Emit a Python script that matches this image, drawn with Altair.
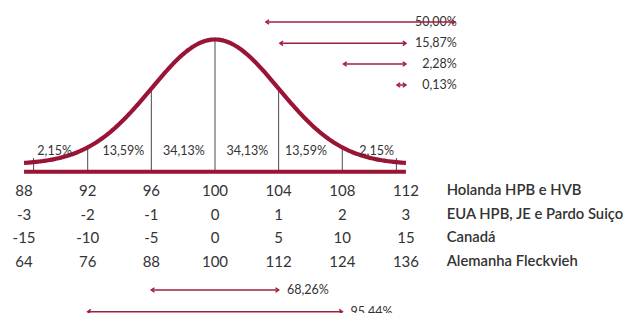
import altair as alt
import numpy as np
import pandas as pd

# ---------------- data ----------------
sd_positions = [-3, -2, -1, 0, 1, 2, 3]
row_names = ["Holanda HPB e HVB", "EUA HPB, JE e Pardo Suiço", "Canadá", "Alemanha Fleckvieh"]
row_holanda = ["88", "92", "96", "100", "104", "108", "112"]
row_eua = ["-3", "-2", "-1", "0", "1", "2", "3"]
row_canada = ["-15", "-10", "-5", "0", "5", "10", "15"]
row_alemanha = ["64", "76", "88", "100", "112", "124", "136"]
band_labels = ["2,15%", "13,59%", "34,13%", "34,13%", "13,59%", "2,15%"]
band_centers = [-2.52, -1.44, -0.49, 0.51, 1.43, 2.54]
divider_sd = [-2, -1, 0, 1, 2]
end_tick_sd = [-2.85, 2.85]
right_labels = ["50,00%", "15,87%", "2,28%", "0,13%"]
right_start = [0.8, 1.02, 2.02, 2.86]
right_end = [3.77, 3.0, 3.0, 3.0]
bottom_labels = ["68,26%", "95,44%"]
bottom_start = [-1.0, -2.0]
bottom_end = [1.0, 2.0]

# ---------------- layout (pdf units / sd units) ----------------
RED = "#9A1535"
ARROW = "#A11E3C"
TXT = "#333333"
FONT = "Lato"
BASE = -0.0237
TICK_TOP = 0.0201
BAND_Y = 0.0434
ROW_Y = [-0.0854, -0.162, -0.2365, -0.3132]
RIGHT_Y = [0.4548, 0.3867, 0.3205, 0.2534]
BOTTOM_Y = [-0.4017, -0.4711]
ROW_LABEL_X = 3.64
RIGHT_TEXT_X = 3.80

W, H = 619, 305
xs = alt.Scale(domain=[-3.252, -3.252 + W / 63.65], zero=False, nice=False)
ys = alt.Scale(domain=[-0.4752, 0.4995], zero=False, nice=False)


def pdf(v):
    v = np.asarray(v, dtype=float)
    return np.exp(-v ** 2 / 2) / np.sqrt(2 * np.pi)


grid = np.linspace(-3, 3, 301)
curve_df = pd.DataFrame({"x": grid, "y": pdf(grid)})
div_df = pd.DataFrame({"x": divider_sd, "y": pdf(divider_sd), "y2": BASE})
tick_df = pd.DataFrame({"x": end_tick_sd, "y": TICK_TOP, "y2": BASE})
base_df = pd.DataFrame({"x": [-3.0], "x2": [3.0], "y": [BASE]})
band_df = pd.DataFrame({"x": band_centers, "y": BAND_Y, "t": band_labels})

rows = [row_holanda, row_eua, row_canada, row_alemanha]
num_records = []
for ry, vals in zip(ROW_Y, rows):
    for sx, v in zip(sd_positions, vals):
        num_records.append({"x": sx, "y": ry, "t": v})
num_df = pd.DataFrame(num_records)
name_df = pd.DataFrame({"x": ROW_LABEL_X, "y": ROW_Y, "t": row_names})

arrows_df = pd.DataFrame({
    "x": right_start + bottom_start,
    "x2": right_end + bottom_end,
    "y": RIGHT_Y + BOTTOM_Y,
})
right_txt_df = pd.DataFrame({"x": RIGHT_TEXT_X, "y": RIGHT_Y, "t": right_labels})
bottom_txt_df = pd.DataFrame({"x": [e + 0.13 for e in bottom_end], "y": BOTTOM_Y, "t": bottom_labels})

X = lambda f="x": alt.X(f, type="quantitative", scale=xs, axis=None)
Y = lambda f="y": alt.Y(f, type="quantitative", scale=ys, axis=None)

dividers = alt.Chart(div_df).mark_rule(color="#4a4a4a", strokeWidth=1).encode(x=X(), y=Y(), y2="y2")
ticks = alt.Chart(tick_df).mark_rule(color="#4a4a4a", strokeWidth=1).encode(x=X(), y=Y(), y2="y2")
baseline = alt.Chart(base_df).mark_rule(color=RED, strokeWidth=4).encode(x=X(), x2="x2", y=Y())
curve = alt.Chart(curve_df).mark_line(color=RED, strokeWidth=4.2).encode(x=X(), y=Y())

band_txt = alt.Chart(band_df).mark_text(font=FONT, fontSize=12.5, color=TXT, baseline="middle").encode(
    x=X(), y=Y(), text="t:N")
num_txt = alt.Chart(num_df).mark_text(font=FONT, fontSize=15, color=TXT, baseline="middle").encode(
    x=X(), y=Y(), text="t:N")
name_txt = alt.Chart(name_df).mark_text(font=FONT, fontSize=14.8, fontWeight=600, color=TXT,
                                        align="left", baseline="middle").encode(x=X(), y=Y(), text="t:N")
right_txt = alt.Chart(right_txt_df).mark_text(font=FONT, fontSize=12.5, color=TXT, align="right",
                                              baseline="middle").encode(x=X(), y=Y(), text="t:N")
bottom_txt = alt.Chart(bottom_txt_df).mark_text(font=FONT, fontSize=12.5, color=TXT, align="left",
                                                baseline="middle").encode(x=X(), y=Y(), text="t:N")

arrow_lines = alt.Chart(arrows_df).mark_rule(color=ARROW, strokeWidth=1.5).encode(x=X(), x2="x2", y=Y())
left_heads = alt.Chart(arrows_df).mark_point(shape="M1.4,-1L0,0L1.4,1", size=20, filled=False,
                                             color=ARROW, strokeWidth=1.5, opacity=1).encode(x=X(), y=Y())
right_heads = alt.Chart(arrows_df).mark_point(shape="M-1.4,-1L0,0L-1.4,1", size=20, filled=False,
                                              color=ARROW, strokeWidth=1.5, opacity=1).encode(x=X("x2"), y=Y())

chart = alt.layer(
    dividers, ticks, baseline, curve, band_txt, num_txt, name_txt, right_txt, bottom_txt,
    arrow_lines, left_heads, right_heads,
).properties(width=W, height=H, padding=0, autosize="none").configure_view(stroke=None)

chart.save("out.html", embed_options={"renderer": "svg", "actions": False})
